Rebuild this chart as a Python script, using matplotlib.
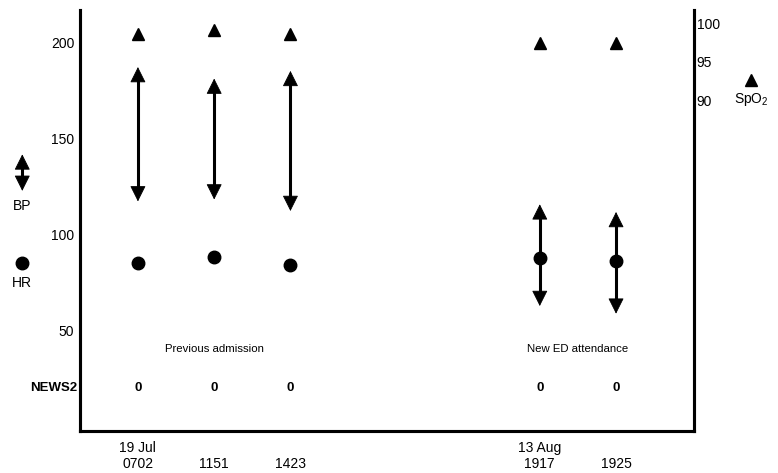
import matplotlib.pyplot as plt

plt.rcParams['font.family'] = ['Liberation Sans', 'DejaVu Sans']
plt.rcParams['mathtext.fontset'] = 'custom'
plt.rcParams['mathtext.rm'] = 'Liberation Sans'

# observations
tick_labels = ["19 Jul\n0702", "\n1151", "\n1423", "13 Aug\n1917", "\n1925"]
bp_sys = [187, 181, 185, 115.5, 111.5]
bp_dia = [117, 118, 112, 62.5, 58.5]
hr = [85, 88, 84, 87.5, 86]
spo2 = [98.6, 99.1, 98.6, 97.4, 97.4]
news2 = [0, 0, 0, 0, 0]

xpos = [0, 1, 2, 5.27, 6.27]

HEAD = '<|-|>,head_length=0.5,head_width=0.25'


def bp_arrow(ax, x, top, bottom, trans):
    # thin patch for the heads, thick line for the shaft
    ax.annotate('', xy=(x, top), xytext=(x, bottom), xycoords=trans, textcoords=trans,
                arrowprops=dict(arrowstyle=HEAD, lw=0.6, color='black',
                                shrinkA=0, shrinkB=0, mutation_scale=20),
                annotation_clip=False)
    ax.plot([x, x], [bottom + 5, top - 5], color='black', lw=2.2,
            solid_capstyle='butt', transform=trans, clip_on=False)


fig = plt.figure(figsize=(7.78, 4.73), dpi=100)
ax = fig.add_axes([0.1028, 0.0888, 0.789, 0.890])
ax2 = ax.twinx()

ax.set_xlim(-0.76, 7.29)
ax.set_ylim(-2.6, 216.7)
ax2.set_ylim(47.0, 101.7)

for a in (ax, ax2):
    a.spines['top'].set_visible(False)
    for s in ('left', 'right', 'bottom'):
        a.spines[s].set_linewidth(2.2)

ax.set_yticks([50, 100, 150, 200])
ax.tick_params(axis='y', length=0, pad=4, labelsize=10)
ax.set_xticks(xpos)
ax.set_xticklabels(tick_labels)
ax.tick_params(axis='x', length=0, pad=7, labelsize=10)

ax2.set_yticks([90, 95, 100])
ax2.tick_params(axis='y', length=0, pad=2, labelsize=10)

# BP arrows
for x, s, d in zip(xpos, bp_sys, bp_dia):
    bp_arrow(ax, x, s, d, ax.transData)

ax.plot(xpos, hr, 'o', color='black', markersize=9, zorder=5)
ax2.plot(xpos, spo2, '^', color='black', markersize=8.5, clip_on=False)

# NEWS2 row and notes
for x, n in zip(xpos, news2):
    ax.text(x, 20, str(n), ha='center', va='center', fontsize=9.5, fontweight='bold')
ax.text(-0.005, 20, 'NEWS2', transform=ax.get_yaxis_transform(), ha='right',
        va='center', fontsize=9.5, fontweight='bold')
ax.text(1.0, 40, 'Previous admission', ha='center', va='center', fontsize=8.2)
ax.text(5.77, 40, 'New ED attendance', ha='center', va='center', fontsize=8.2)

# legend keys outside the axes
yt = ax.get_yaxis_transform()
bp_arrow(ax, -0.094, 141.5, 122.5, yt)
ax.text(-0.094, 114.5, 'BP', transform=yt, ha='center', va='center', fontsize=10)
ax.plot([-0.094], [85], 'o', color='black', markersize=9, transform=yt, clip_on=False)
ax.text(-0.094, 74.5, 'HR', transform=yt, ha='center', va='center', fontsize=10)
ax.plot([1.093], [180.5], '^', color='black', markersize=8.5, transform=yt, clip_on=False)
ax.text(1.093, 170, r'SpO$_\mathregular{2}$', transform=yt, ha='center', va='center',
        fontsize=10)

fig.savefig('out.png', dpi=100)
